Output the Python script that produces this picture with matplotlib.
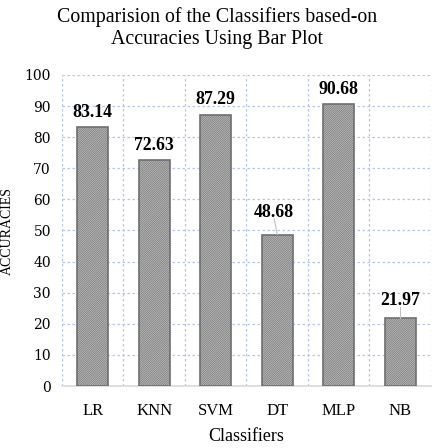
import matplotlib
matplotlib.use("Agg")
import matplotlib.pyplot as plt
import numpy as np

categories = ["LR", "KNN", "SVM", "DT", "MLP", "NB"]
accuracies = [83.14, 72.63, 87.29, 48.68, 90.68, 21.97]
label_extra = [0, 0, 0, 2.5, 0, 0.8]  # extra lift for labels with leader lines
yticks = [0, 10, 20, 30, 40, 50, 60, 70, 80, 90, 100]

plt.rcParams['hatch.linewidth'] = 0.5
serif = ['Liberation Serif', 'DejaVu Serif']

fig = plt.figure(figsize=(4.35, 4.48), dpi=100)
ax = fig.add_axes([62/435, 1-386/448, 369/435, 311/448])

x = np.arange(len(categories))
bars = ax.bar(x, accuracies, width=0.5, color='#d3d3d3', edgecolor='#6e6e6e',
              linewidth=1.2, hatch='/' * 18, zorder=3)

for xi, v, extra in zip(x, accuracies, label_extra):
    ty = v + 2.0 + extra
    dx = -0.05 if extra > 2 else 0.0
    ax.text(xi + dx, ty, f"{v:.2f}", ha='center', va='bottom', fontsize=12.8,
            fontweight='bold', family=serif, zorder=5)
    if extra:
        ax.plot([xi, xi + dx], [v, ty + 0.6], color='#bfbfbf', lw=0.8, zorder=4)

ax.set_xlim(-0.5, len(categories) - 0.5)
ax.set_ylim(0, 100)
ax.set_yticks(yticks)
ax.set_yticklabels([str(t) for t in yticks], family='DejaVu Serif', fontsize=10)
ax.set_xticks(x)
ax.set_xticklabels(categories, family=serif, fontsize=12)
ax.tick_params(axis='both', length=0)
ax.tick_params(axis='x', pad=12)
ax.tick_params(axis='y', pad=8)

# grid
for t in yticks[1:]:
    ax.axhline(t, color='#b4c7e7', lw=0.9, ls=(0, (2, 2)), zorder=1)
for b in np.arange(-0.5, len(categories) + 0.5, 1.0):
    ax.axvline(b, color='#b4c7e7', lw=0.9, ls=(0, (2, 2)), zorder=1)

for s in ['top', 'right', 'left']:
    ax.spines[s].set_visible(False)
ax.spines['bottom'].set_color('#d9d9d9')
ax.spines['bottom'].set_linewidth(1.2)

ax.set_ylabel("ACCURACIES", family=serif, fontsize=10, labelpad=8)
ax.set_xlabel("Classifiers", family=serif, fontsize=13, labelpad=7)

fig.suptitle("Comparision of the Classifiers based-on\nAccuracies Using Bar Plot",
             family=serif, fontsize=14.3, y=1 - 28/448, va='center', linespacing=1.25)

fig.savefig("out.png", dpi=100)
